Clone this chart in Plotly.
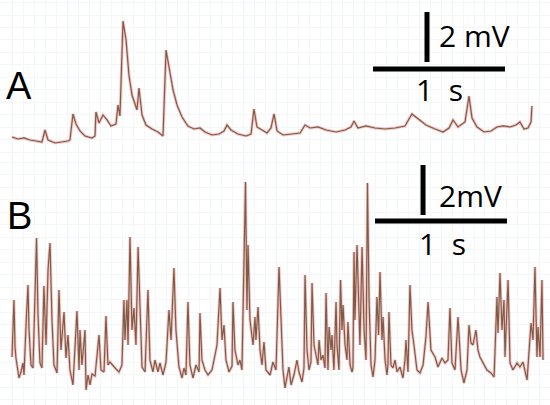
import plotly.graph_objects as go

# Traço A (tempo em s, tensão em mV)
tempo_a = [0.000, 0.045, 0.091, 0.136, 0.182, 0.227, 0.250, 0.273, 0.326, 0.379,
           0.424, 0.439, 0.462, 0.485, 0.515, 0.553, 0.606, 0.629, 0.636, 0.659,
           0.689, 0.720, 0.750, 0.788, 0.803, 0.818, 0.841, 0.864, 0.886, 0.909,
           0.932, 0.947, 0.962, 0.985, 1.015, 1.061, 1.106, 1.144, 1.167, 1.189,
           1.220, 1.250, 1.288, 1.333, 1.379, 1.424, 1.462, 1.515, 1.568, 1.606,
           1.629, 1.659, 1.712, 1.773, 1.811, 1.833, 1.856, 1.894, 1.932, 1.962,
           1.985, 2.008, 2.053, 2.121, 2.182, 2.220, 2.258, 2.318, 2.379, 2.455,
           2.523, 2.568, 2.591, 2.621, 2.682, 2.750, 2.826, 2.902, 2.977, 3.030,
           3.076, 3.136, 3.205, 3.265, 3.311, 3.341, 3.379, 3.432, 3.462, 3.485,
           3.523, 3.576, 3.629, 3.674, 3.720, 3.773, 3.818, 3.848, 3.879, 3.909,
           3.932, 3.939]
mv_a = [0.12, 0.04, 0.08, 0.00, -0.04, -0.08, 0.40, 0.00, -0.12, -0.08,
        -0.04, 0.00, 1.04, 0.64, 0.36, 0.16, 0.08, 0.16, 1.12, 0.68,
        1.00, 0.80, 0.56, 0.64, 1.40, 0.96, 4.76, 4.00, 2.60, 1.80,
        1.40, 1.20, 2.08, 1.00, 0.60, 0.44, 0.32, 0.16, 3.60, 2.96,
        2.00, 1.40, 0.92, 0.56, 0.44, 0.48, 0.32, 0.20, 0.24, 0.36,
        0.60, 0.40, 0.24, 0.16, 0.24, 1.24, 0.52, 0.40, 0.28, 0.48,
        1.04, 0.36, 0.20, 0.24, 0.28, 0.60, 0.48, 0.52, 0.40, 0.32,
        0.40, 0.52, 0.76, 0.48, 0.56, 0.48, 0.44, 0.48, 0.56, 1.04,
        0.84, 0.60, 0.44, 0.32, 0.48, 0.80, 0.52, 0.72, 1.76, 0.88,
        0.52, 0.32, 0.36, 0.52, 0.56, 0.52, 0.60, 0.72, 0.44, 0.48,
        0.72, 1.36]

# Traço B
tempo_b = [0.000, 0.015, 0.023, 0.030, 0.053, 0.068, 0.083, 0.091, 0.106, 0.121,
           0.129, 0.144, 0.159, 0.174, 0.186, 0.197, 0.212, 0.227, 0.242, 0.258,
           0.273, 0.288, 0.303, 0.318, 0.341, 0.356, 0.371, 0.394, 0.409, 0.424,
           0.439, 0.462, 0.492, 0.508, 0.515, 0.530, 0.553, 0.561, 0.576, 0.591,
           0.606, 0.629, 0.659, 0.674, 0.697, 0.712, 0.727, 0.742, 0.765, 0.788,
           0.811, 0.833, 0.848, 0.856, 0.871, 0.879, 0.894, 0.909, 0.924, 0.939,
           0.955, 0.970, 0.985, 1.008, 1.030, 1.045, 1.068, 1.083, 1.106, 1.121,
           1.144, 1.167, 1.189, 1.205, 1.227, 1.242, 1.265, 1.288, 1.303, 1.318,
           1.333, 1.348, 1.371, 1.394, 1.417, 1.424, 1.439, 1.462, 1.485, 1.515,
           1.538, 1.553, 1.576, 1.591, 1.606, 1.621, 1.644, 1.667, 1.674, 1.689,
           1.712, 1.727, 1.742, 1.769, 1.780, 1.788, 1.803, 1.826, 1.841, 1.848,
           1.864, 1.879, 1.894, 1.909, 1.924, 1.955, 1.977, 2.000, 2.023, 2.038,
           2.053, 2.068, 2.083, 2.098, 2.114, 2.136, 2.159, 2.174, 2.197, 2.212,
           2.220, 2.235, 2.250, 2.265, 2.273, 2.288, 2.303, 2.318, 2.326, 2.341,
           2.356, 2.371, 2.379, 2.394, 2.402, 2.417, 2.424, 2.439, 2.455, 2.462,
           2.477, 2.489, 2.500, 2.508, 2.523, 2.538, 2.545, 2.561, 2.576, 2.583,
           2.591, 2.598, 2.614, 2.629, 2.636, 2.652, 2.667, 2.682, 2.693, 2.705,
           2.720, 2.735, 2.750, 2.765, 2.777, 2.788, 2.803, 2.811, 2.826, 2.841,
           2.848, 2.856, 2.871, 2.886, 2.902, 2.917, 2.939, 2.962, 2.977, 2.985,
           3.000, 3.015, 3.030, 3.045, 3.068, 3.091, 3.114, 3.136, 3.152, 3.174,
           3.205, 3.227, 3.258, 3.280, 3.303, 3.318, 3.333, 3.356, 3.379, 3.402,
           3.424, 3.447, 3.462, 3.477, 3.492, 3.515, 3.530, 3.545, 3.568, 3.598,
           3.629, 3.652, 3.674, 3.682, 3.697, 3.712, 3.727, 3.735, 3.758, 3.773,
           3.795, 3.826, 3.848, 3.871, 3.902, 3.932, 3.947, 3.962, 3.977, 3.985,
           4.000, 4.015, 4.023]
mv_b = [0.72, 3.00, 1.12, 0.68, -0.12, 0.12, 0.48, 0.00, 1.96, 3.60,
        1.80, 0.40, 0.28, 3.00, 5.48, 2.40, 0.48, 0.28, 3.56, 1.20,
        4.20, 5.28, 2.20, 0.40, 0.08, 3.40, 1.00, 2.52, 0.68, 1.60,
        0.20, -0.40, 2.56, 0.20, 1.80, 0.40, 1.80, -0.60, 0.00, -0.40,
        0.04, -0.04, 1.60, 0.20, 0.12, 2.36, 0.40, 0.52, 0.36, 0.24,
        0.12, 0.40, 3.00, 1.40, 3.00, 1.20, 5.52, 1.80, 2.68, 1.20,
        5.12, 2.20, 0.32, 0.12, 3.40, 0.60, 0.12, 0.60, 0.12, 0.48,
        0.00, 0.52, 2.60, 1.40, 4.28, 1.80, 0.32, -0.12, 0.28, 0.00,
        2.92, 0.40, -0.12, 0.40, 0.12, 2.48, 0.60, 0.20, 0.00, 0.20,
        0.88, 1.20, 3.48, 1.40, 2.00, 0.60, 0.12, 0.36, 2.92, 1.00,
        0.40, 0.60, 0.20, 7.72, 2.60, 5.20, 2.20, 1.20, 2.32, 1.40,
        2.72, 1.00, 0.40, 1.32, 0.20, 0.00, 0.52, 0.20, 4.32, 1.80,
        0.20, -0.52, -0.12, 0.32, -0.40, 0.00, 0.60, 0.12, -0.28, 0.28,
        4.00, 1.00, 0.20, 0.52, 3.68, 1.20, 0.80, 0.40, 1.40, 0.60,
        0.80, 0.28, 3.28, 0.20, 1.92, 1.00, 1.60, 0.20, 2.92, 1.20,
        0.20, 3.80, 1.80, 2.80, 1.20, 0.60, 2.12, 0.40, 0.12, 0.28,
        4.92, 2.20, 5.20, 2.20, 1.20, 5.12, 1.80, 0.60, 7.68, 3.00,
        0.40, -0.08, 0.60, 3.12, 1.60, 4.12, 1.40, 2.32, 0.60, 0.00,
        0.40, 2.52, 0.40, 0.28, 0.60, 0.12, 0.32, -0.12, 0.60, 1.40,
        0.12, 3.60, 1.80, 1.20, 0.20, 0.08, 0.40, 1.52, 2.92, 1.00,
        0.72, 0.32, 0.68, 0.48, 0.60, 2.68, 0.48, 0.20, 2.32, 0.20,
        -0.32, 0.20, 2.00, 1.28, 1.20, 1.80, 1.00, 0.72, 0.48, 0.20,
        0.08, -0.08, 3.12, 1.68, 4.08, 1.80, 3.00, 0.72, 3.80, 0.48,
        0.20, 0.48, 0.32, 0.52, -0.20, 2.08, 1.40, 4.32, 0.72, 1.92,
        0.72, 3.80, 0.60]

COR_HALO = "rgba(232,100,100,0.38)"
COR_LINHA = "#7d5d48"
FONTE = "Open Sans"

fig = go.Figure()
for t, v, eixo in [(tempo_a, mv_a, "y"), (tempo_b, mv_b, "y2")]:
    fig.add_trace(go.Scatter(x=t, y=v, yaxis=eixo, mode="lines",
                             line=dict(color=COR_HALO, width=3), hoverinfo="skip"))
    fig.add_trace(go.Scatter(x=t, y=v, yaxis=eixo, mode="lines",
                             line=dict(color=COR_LINHA, width=1.2)))

# barras de escala: 1 s e 2 mV
barras = [
    ("y", 2.735, 3.735, 2.84, 3.144, 3.12),
    ("y2", 2.75, 3.75, 6.16, 3.114, 6.40),
]
for eixo, x0, x1, yh, xv, yv in barras:
    fig.add_shape(type="line", xref="x", yref=eixo, x0=x0, x1=x1, y0=yh, y1=yh,
                  line=dict(color="black", width=5))
    fig.add_shape(type="line", xref="x", yref=eixo, x0=xv, x1=xv, y0=yv, y1=yv + 2,
                  line=dict(color="black", width=5))

textos = [
    ("y", 3.22, 4.16, "2 mV", "left"),
    ("y", 3.24, 2.02, "1\u00a0\u00a0s", "center"),
    ("y2", 3.22, 7.16, "2mV", "left"),
    ("y2", 3.26, 5.24, "1\u00a0\u00a0s", "center"),
]
for eixo, x, y, txt, anc in textos:
    fig.add_annotation(x=x, y=y, xref="x", yref=eixo, text=txt, showarrow=False,
                       xanchor=anc, yanchor="middle",
                       font=dict(family=FONTE, size=30, color="black"))

for letra, yp in [("A", 0.788), ("B", 0.467)]:
    fig.add_annotation(x=0.035, y=yp, xref="paper", yref="paper", text=letra,
                       showarrow=False, xanchor="center", yanchor="middle",
                       font=dict(family="Liberation Sans", size=38, color="black"))

grade = "#f3f7f8"
fig.update_layout(
    width=550, height=405,
    margin=dict(l=0, r=0, t=0, b=0),
    showlegend=False,
    plot_bgcolor="white",
    paper_bgcolor="white",
    xaxis=dict(range=[-0.0909, 4.0758], showticklabels=False, zeroline=False,
               showgrid=True, gridcolor=grade, dtick=1 / 12, tick0=0),
    yaxis=dict(domain=[0.605, 1], range=[-0.8, 5.6], showticklabels=False,
               zeroline=False, showgrid=True, gridcolor=grade, dtick=0.5),
    yaxis2=dict(domain=[0, 0.605], range=[-1.2, 8.6], showticklabels=False,
                zeroline=False, showgrid=True, gridcolor=grade, dtick=0.5),
)

# sem margem do body, para a figura ocupar a janela toda
fig.write_html("out.html", config={"displayModeBar": False},
               post_script="document.body.style.margin='0';")
